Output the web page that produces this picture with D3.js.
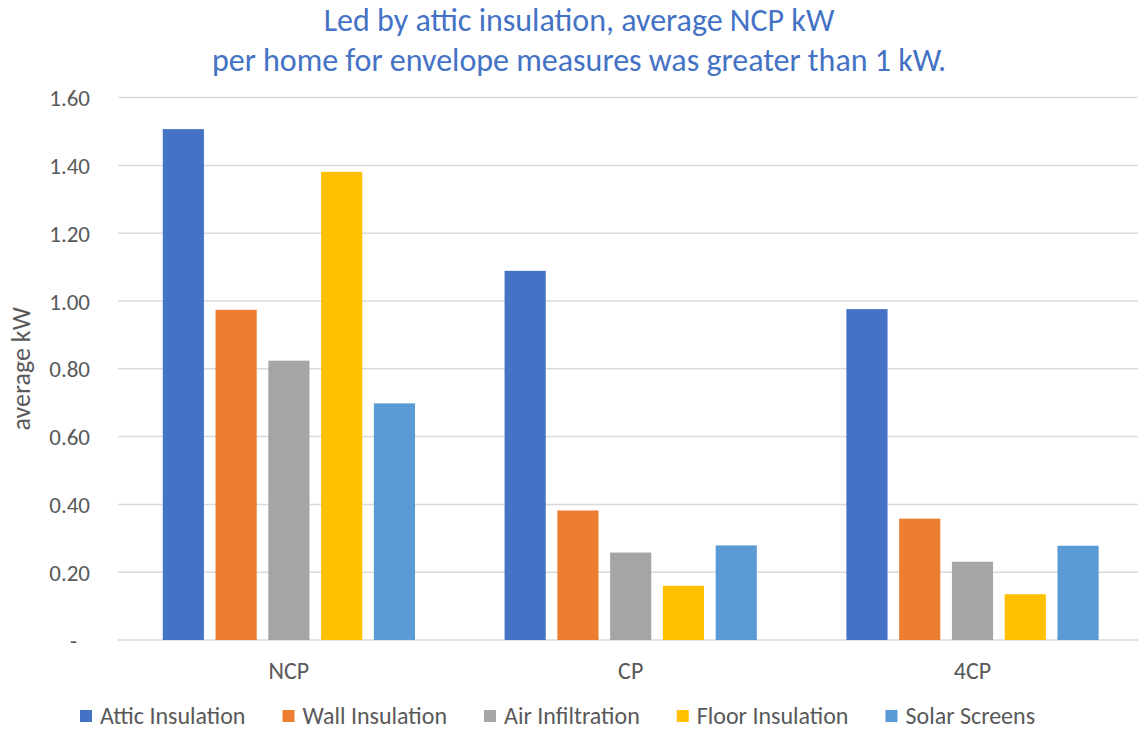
<!DOCTYPE html>
<html>
<head>
<meta charset="utf-8">
<script src="https://cdn.jsdelivr.net/npm/d3@7"></script>
<style>
  html, body { margin: 0; padding: 0; background: #fff; }
  svg { display: block; font-family: Carlito, Calibri, Lato, "Open Sans", sans-serif; }
</style>
</head>
<body>
<svg id="chart" width="1138" height="732"></svg>
<script>
const categories = ["NCP", "CP", "4CP"];
const seriesNames = ["Attic Insulation", "Wall Insulation", "Air Infiltration", "Floor Insulation", "Solar Screens"];
const atticInsulation = [1.507, 1.089, 0.976];
const wallInsulation  = [0.974, 0.382, 0.358];
const airInfiltration = [0.824, 0.258, 0.231];
const floorInsulation = [1.381, 0.160, 0.135];
const solarScreens    = [0.698, 0.279, 0.278];
const seriesColors = ["#4472C4", "#ED7D31", "#A5A5A5", "#FFC000", "#5B9BD5"];
const yTicks = [0, 0.2, 0.4, 0.6, 0.8, 1.0, 1.2, 1.4, 1.6];
const titleLines = ["Led by attic insulation, average NCP kW", "per home for envelope measures was greater than 1 kW."];
const yAxisTitle = "average kW";

const seriesValues = [atticInsulation, wallInsulation, airInfiltration, floorInsulation, solarScreens];

const svg = d3.select("#chart");
const margin = {left: 118, right: 1138, top: 97.6, bottom: 640};
const textColor = "#595959";

const y = d3.scaleLinear().domain([0, 1.6]).range([margin.bottom, margin.top]);
const x0 = d3.scaleBand().domain(categories).range([margin.left, margin.left + 3 * 341.8])
  .paddingInner(0.262).paddingOuter(0.131);
const x1 = d3.scaleBand().domain(seriesNames).range([0, x0.bandwidth()]).paddingInner(0.22).paddingOuter(0);

// gridlines
const grid = svg.append("g");
grid.selectAll("line").data(yTicks).join("line")
  .attr("x1", margin.left).attr("x2", margin.right)
  .attr("y1", d => y(d)).attr("y2", d => y(d))
  .attr("stroke", "#D9D9D9").attr("stroke-width", 1.5);

// y axis labels
const yAxis = d3.axisLeft(y).tickValues(yTicks).tickSize(0).tickPadding(0)
  .tickFormat(d => d === 0 ? "-" : d3.format(".2f")(d));
const yg = svg.append("g").attr("transform", `translate(${90},0)`).call(yAxis);
yg.select(".domain").remove();
yg.selectAll("text").attr("fill", textColor).style("font-size", "23px")
  .style("font-family", "Carlito, Calibri, Lato, sans-serif")
  .attr("dy", "0.35em")
  .attr("dx", d => d === 0 ? -13 : 0);

// bars
const groups = svg.append("g").selectAll("g").data(categories).join("g")
  .attr("transform", d => `translate(${x0(d)},0)`);
groups.selectAll("rect").data((c, ci) => seriesNames.map((s, si) => ({s, si, v: seriesValues[si][ci]})))
  .join("rect")
  .attr("x", d => x1(d.s))
  .attr("width", x1.bandwidth())
  .attr("y", d => y(d.v))
  .attr("height", d => y(0) - y(d.v))
  .attr("fill", d => seriesColors[d.si]);

// x axis labels
const xAxis = d3.axisBottom(x0).tickSize(0).tickPadding(0);
const xg = svg.append("g").attr("transform", `translate(0,${margin.bottom})`).call(xAxis);
xg.select(".domain").remove();
xg.selectAll("text").attr("fill", textColor).style("font-size", "24px")
  .style("font-family", "Carlito, Calibri, Lato, sans-serif")
  .attr("y", 39).attr("dy", 0);

// y axis title
svg.append("text")
  .attr("transform", `translate(30,${(margin.top + margin.bottom) / 2}) rotate(-90)`)
  .attr("text-anchor", "middle")
  .attr("fill", textColor).style("font-size", "26px")
  .text(yAxisTitle);

// title
svg.append("g").selectAll("text").data(titleLines).join("text")
  .attr("x", 579).attr("y", (d, i) => 31 + i * 40)
  .attr("text-anchor", "middle")
  .attr("fill", "#4472C4").style("font-size", "32px")
  .text(d => d);

// legend
const legend = svg.append("g");
let lx = 80;
seriesNames.forEach((name, i) => {
  legend.append("rect").attr("x", lx).attr("y", 710).attr("width", 12).attr("height", 12).attr("fill", seriesColors[i]);
  const t = legend.append("text").attr("x", lx + 20).attr("y", 724)
    .attr("fill", textColor).style("font-size", "24px").text(name);
  const w = t.node().getComputedTextLength();
  lx += 20 + w + 37;
});
</script>
</body>
</html>
